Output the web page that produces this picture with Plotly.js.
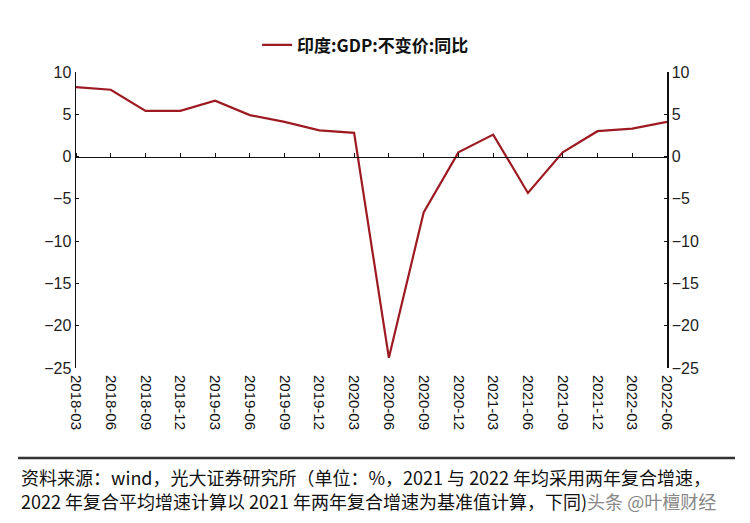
<!DOCTYPE html>
<html><head><meta charset="utf-8">
<script src="https://cdn.plot.ly/plotly-3.0.1.min.js"></script>
<style>body{margin:0;background:#fff}#c{width:750px;height:523px}</style>
</head><body><div id="c"></div>
<script>
const categories = ["2018-03","2018-06","2018-09","2018-12","2019-03","2019-06","2019-09","2019-12","2020-03","2020-06","2020-09","2020-12","2021-03","2021-06","2021-09","2021-12","2022-03","2022-06"];
const gdpYoY = [8.2, 7.9, 5.4, 5.4, 6.6, 4.9, 4.1, 3.1, 2.8, -23.8, -6.6, 0.5, 2.6, -4.3, 0.5, 3.0, 3.3, 4.1];
const seriesName = "印度:GDP:不变价:同比";
const yTicks = [10, 5, 0, -5, -10, -15, -20, -25];
const footer1 = "资料来源：wind，光大证券研究所（单位：%，2021 与 2022 年均采用两年复合增速，";
const footer2 = "2022 年复合平均增速计算以 2021 年两年复合增速为基准值计算，下同)";
const watermark = "头条 @叶檀财经";

const font = "Liberation Sans, Arial, sans-serif";
const cjk = "Noto Sans CJK SC, sans-serif";

const traces = [
  {x: categories, y: gdpYoY, type: "scatter", mode: "lines", name: seriesName,
   line: {color: "#9e1a22", width: 2.2}, xaxis: "x", yaxis: "y"},
  {x: categories, y: gdpYoY, type: "scatter", mode: "lines", showlegend: false, hoverinfo: "skip",
   line: {color: "rgba(0,0,0,0)", width: 0}, xaxis: "x2", yaxis: "y2"}
];

const layout = {
  width: 750, height: 523,
  margin: {l: 76, r: 83, t: 72, b: 155},
  paper_bgcolor: "#ffffff", plot_bgcolor: "#ffffff",
  showlegend: true,
  legend: {orientation: "h", x: 0.49, xanchor: "center", y: 1.09, yanchor: "middle",
    font: {family: cjk, size: 17, color: "#111", weight: "bold"}},
  xaxis: {type: "category", categoryorder: "array", categoryarray: categories,
    range: [0, 17], showline: false, ticks: "", showgrid: false, zeroline: false,
    tickangle: 90, ticklabelstandoff: 6, tickfont: {family: font, size: 15, color: "#111"}},
  xaxis2: {type: "category", categoryorder: "array", categoryarray: categories,
    range: [0, 17], overlaying: "x", anchor: "free", position: 25/35, side: "top",
    showline: true, linecolor: "#111", linewidth: 1.5, ticks: "outside", ticklen: 4,
    tickcolor: "#111", showticklabels: false, showgrid: false, zeroline: false},
  yaxis: {range: [-25, 10], tickvals: yTicks, showline: true, linecolor: "#111", linewidth: 1.5,
    ticks: "inside", ticklen: 3, tickcolor: "#111", showgrid: false, zeroline: false,
    tickfont: {family: font, size: 16, color: "#222"}},
  yaxis2: {range: [-25, 10], tickvals: yTicks, overlaying: "y", side: "right", anchor: "x",
    showline: true, linecolor: "#111", linewidth: 1.5, ticks: "inside", ticklen: 3, tickcolor: "#111",
    showgrid: false, zeroline: false, tickfont: {family: font, size: 16, color: "#222"}},
  shapes: [
    {type: "line", xref: "paper", yref: "paper", x0: -0.098, x1: 1.115, y0: -0.304, y1: -0.304,
     line: {color: "#333", width: 2.5}}
  ],
  annotations: [
    {xref: "paper", yref: "paper", x: -0.097, y: -0.368, xanchor: "left", yanchor: "middle",
     text: footer1, showarrow: false, font: {family: cjk, size: 18, color: "#111"}},
    {xref: "paper", yref: "paper", x: -0.097, y: -0.45, xanchor: "left", yanchor: "middle",
     text: footer2 + "<span style='color:#888'>" + watermark + "</span>", showarrow: false,
     font: {family: cjk, size: 18, color: "#111"}}
  ]
};

Plotly.newPlot("c", traces, layout, {displayModeBar: false, staticPlot: true});
</script></body></html>
